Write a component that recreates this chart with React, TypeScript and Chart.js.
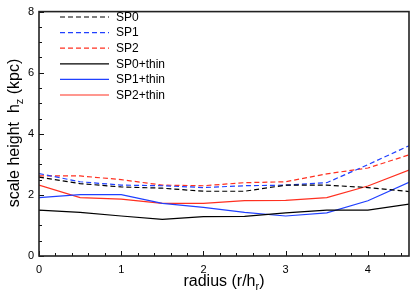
import React, { useEffect, useRef } from 'react';
import { Chart, registerables } from 'chart.js';
Chart.register(...registerables);

const radius = [0, 0.5, 1, 1.5, 2, 2.5, 3, 3.5, 4, 4.5];
const sp0 = [2.58, 2.37, 2.26, 2.22, 2.12, 2.12, 2.32, 2.32, 2.24, 2.11];
const sp1 = [2.7, 2.43, 2.32, 2.3, 2.24, 2.3, 2.32, 2.4, 2.99, 3.61];
const sp2 = [2.62, 2.62, 2.5, 2.32, 2.3, 2.4, 2.43, 2.69, 2.88, 3.31];
const sp0Thin = [1.5, 1.43, 1.31, 1.2, 1.29, 1.3, 1.41, 1.5, 1.5, 1.7];
const sp1Thin = [1.91, 2.01, 2.01, 1.72, 1.59, 1.43, 1.31, 1.41, 1.81, 2.41];
const sp2Thin = [2.32, 1.91, 1.86, 1.72, 1.72, 1.81, 1.82, 1.91, 2.29, 2.81];
const seriesLabels = ['SP0', 'SP1', 'SP2', 'SP0+thin', 'SP1+thin', 'SP2+thin'];
const xTickValues = [0, 1, 2, 3, 4];
const yTickValues = [0, 2, 4, 6, 8];

const BLACK = '#000000';
const BLUE = '#2040ff';
const RED = '#ff3020';
const FONT = "'Liberation Sans', Arial, Helvetica, sans-serif";

const seriesData = [sp0, sp1, sp2, sp0Thin, sp1Thin, sp2Thin];
const seriesColors = [BLACK, BLUE, RED, BLACK, BLUE, RED];
const seriesDashed = [true, true, true, false, false, false];

const decorPlugin = {
  id: 'decor',
  afterDraw(chart: any) {
    const ctx = chart.ctx;
    const area = chart.chartArea;
    const xs = chart.scales.x;
    const ys = chart.scales.y;
    ctx.save();
    // ticks inside
    ctx.strokeStyle = '#111';
    ctx.lineWidth = 1;
    for (let v = 0; v <= 4.5 + 1e-9; v += 0.2) {
      const major = Math.abs(v - Math.round(v)) < 1e-6;
      const px = Math.round(xs.getPixelForValue(v)) + 0.5;
      ctx.beginPath();
      ctx.moveTo(px, area.bottom);
      ctx.lineTo(px, area.bottom - (major ? 5 : 3));
      ctx.stroke();
    }
    for (let v = 0; v <= 8 + 1e-9; v += 0.5) {
      const major = Math.abs(v / 2 - Math.round(v / 2)) < 1e-6;
      const py = Math.round(ys.getPixelForValue(v)) + 0.5;
      ctx.beginPath();
      ctx.moveTo(area.left, py);
      ctx.lineTo(area.left + (major ? 5 : 3), py);
      ctx.stroke();
    }
    // frame
    ctx.strokeStyle = '#222';
    ctx.lineWidth = 1.6;
    ctx.strokeRect(area.left, area.top, area.right - area.left, area.bottom - area.top);

    // legend
    ctx.font = `12px ${FONT}`;
    ctx.textBaseline = 'middle';
    ctx.textAlign = 'left';
    chart.data.datasets.forEach((ds: any, i: number) => {
      const y = 17 + i * 15.6;
      ctx.beginPath();
      ctx.strokeStyle = ds.borderColor;
      ctx.lineWidth = 1.2;
      ctx.setLineDash(ds.borderDash || []);
      ctx.moveTo(60, y);
      ctx.lineTo(109, y);
      ctx.stroke();
      ctx.setLineDash([]);
      ctx.fillStyle = '#000';
      ctx.fillText(ds.label, 116, y + 0.5);
    });

    // x title
    ctx.fillStyle = '#000';
    ctx.textBaseline = 'alphabetic';
    const big = `16px ${FONT}`;
    const small = `11px ${FONT}`;
    const xParts: [string, string, number][] = [
      ['radius (r/h', big, 0],
      ['r', small, 4],
      [')', big, 0],
    ];
    let total = 0;
    xParts.forEach(([t, f]) => { ctx.font = f; total += ctx.measureText(t).width; });
    let cx = (area.left + area.right) / 2 - total / 2;
    xParts.forEach(([t, f, dy]) => {
      ctx.font = f;
      ctx.fillText(t, cx, 286 + dy);
      cx += ctx.measureText(t).width;
    });

    // y title
    const yParts: [string, string, number][] = [
      ['scale height  h', big, 0],
      ['z', small, 4],
      [' (kpc)', big, 0],
    ];
    total = 0;
    yParts.forEach(([t, f]) => { ctx.font = f; total += ctx.measureText(t).width; });
    ctx.translate(19, 133);
    ctx.rotate(-Math.PI / 2);
    let cy = -total / 2;
    yParts.forEach(([t, f, dy]) => {
      ctx.font = f;
      ctx.fillText(t, cy, dy);
      cy += ctx.measureText(t).width;
    });
    ctx.restore();
  },
};

export default function App() {
  const ref = useRef<HTMLCanvasElement | null>(null);
  useEffect(() => {
    if (!ref.current) return;
    const datasets = seriesLabels.map((label, i) => ({
      label,
      data: radius.map((r, j) => ({ x: r, y: seriesData[i][j] })),
      borderColor: seriesColors[i],
      backgroundColor: seriesColors[i],
      borderWidth: 1.2,
      borderDash: seriesDashed[i] ? [5, 3] : [],
      pointRadius: 0,
      tension: 0,
      fill: false,
    }));
    const chart = new Chart(ref.current, {
      type: 'line',
      data: { datasets },
      options: {
        responsive: false,
        animation: false,
        layout: { padding: { top: 8, right: 6, left: 0, bottom: 0 } },
        plugins: { legend: { display: false }, tooltip: { enabled: false } },
        scales: {
          x: {
            type: 'linear',
            min: 0,
            max: 4.5,
            grid: { display: false, drawTicks: false },
            border: { display: false },
            afterBuildTicks: (s: any) => {
              s.ticks = xTickValues.map((v) => ({ value: v }));
            },
            afterFit: (s: any) => { s.height = 37; },
            ticks: {
              color: '#000',
              font: { size: 11, family: FONT },
              padding: 7,
              maxRotation: 0,
              callback: (v: any) => String(v),
            },
          },
          y: {
            type: 'linear',
            min: 0,
            max: 8,
            grid: { display: false, drawTicks: false },
            border: { display: false },
            afterBuildTicks: (s: any) => {
              s.ticks = yTickValues.map((v) => ({ value: v }));
            },
            afterFit: (s: any) => { s.width = 39; },
            ticks: {
              color: '#000',
              font: { size: 11, family: FONT },
              padding: 5,
              callback: (v: any) => String(v),
            },
          },
        },
      },
      plugins: [decorPlugin],
    } as any);
    return () => chart.destroy();
  }, []);
  return (
    <div style={{ position: 'absolute', left: 0, top: 0, width: 415, height: 293, background: '#fff' }}>
      <canvas ref={ref} width={415} height={293} style={{ display: 'block' }} />
    </div>
  );
}
